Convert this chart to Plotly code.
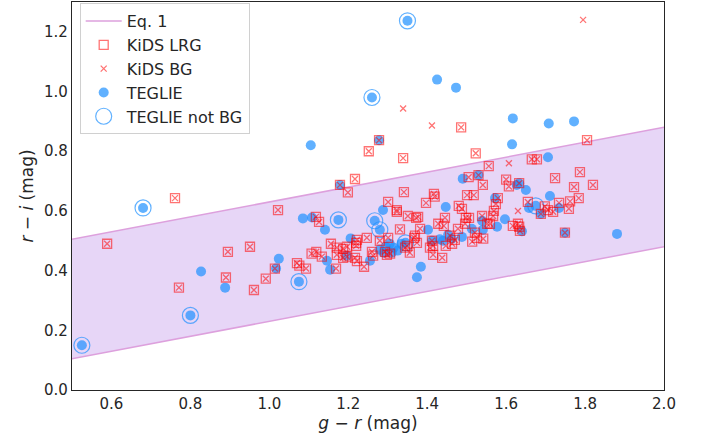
import plotly.graph_objects as go

# Eq. 1 band: r-i = slope*(g-r) + intercept
eq_x = [0.4, 2.1]
eq_slope = 0.25
eq_lower_intercept = -0.02
eq_upper_intercept = 0.38

lrg_gr = [0.589, 0.761, 0.771, 0.890, 0.895, 0.951, 0.961, 0.991, 1.014, 1.022,
          1.070, 1.076, 1.093, 1.107, 1.119, 1.118, 1.126, 1.133, 1.156, 1.169,
          1.171, 1.171, 1.179, 1.187, 1.187, 1.197, 1.197, 1.199, 1.217, 1.220,
          1.220, 1.222, 1.222, 1.217, 1.240, 1.247, 1.252, 1.260, 1.263, 1.278,
          1.280, 1.293, 1.298, 1.301, 1.301, 1.306, 1.323, 1.323, 1.331, 1.339,
          1.341, 1.344, 1.349, 1.351, 1.356, 1.367, 1.369, 1.372, 1.374, 1.377,
          1.382, 1.397, 1.407, 1.412, 1.415, 1.415, 1.417, 1.419, 1.428, 1.438,
          1.442, 1.445, 1.447, 1.458, 1.463, 1.470, 1.478, 1.480, 1.486, 1.488,
          1.496, 1.498, 1.501, 1.505, 1.506, 1.514, 1.518, 1.521, 1.523, 1.526,
          1.530, 1.539, 1.541, 1.542, 1.552, 1.556, 1.559, 1.567, 1.569, 1.574,
          1.579, 1.600, 1.607, 1.617, 1.630, 1.633, 1.633, 1.635, 1.655, 1.665,
          1.678, 1.688, 1.698, 1.706, 1.719, 1.724, 1.734, 1.749, 1.759, 1.762,
          1.772, 1.784, 1.787, 1.805, 1.820]
lrg_ri = [0.490, 0.643, 0.343, 0.377, 0.463, 0.480, 0.335, 0.373, 0.407, 0.603,
          0.425, 0.417, 0.407, 0.457, 0.463, 0.580, 0.563, 0.447, 0.490, 0.407,
          0.477, 0.453, 0.687, 0.473, 0.443, 0.480, 0.447, 0.662, 0.707, 0.483,
          0.493, 0.503, 0.432, 0.443, 0.413, 0.510, 0.800, 0.463, 0.450, 0.837,
          0.500, 0.463, 0.453, 0.510, 0.630, 0.457, 0.603, 0.597, 0.538, 0.777,
          0.663, 0.477, 0.483, 0.583, 0.460, 0.510, 0.517, 0.577, 0.493, 0.580,
          0.540, 0.627, 0.477, 0.500, 0.483, 0.453, 0.657, 0.648, 0.557, 0.443,
          0.550, 0.577, 0.483, 0.517, 0.490, 0.503, 0.540, 0.617, 0.880, 0.607,
          0.557, 0.577, 0.653, 0.713, 0.577, 0.497, 0.653, 0.527, 0.793, 0.510,
          0.720, 0.583, 0.687, 0.507, 0.557, 0.750, 0.557, 0.583, 0.600, 0.623,
          0.643, 0.705, 0.682, 0.550, 0.557, 0.693, 0.547, 0.533, 0.630, 0.773,
          0.773, 0.590, 0.615, 0.603, 0.597, 0.710, 0.627, 0.527, 0.607, 0.632,
          0.680, 0.643, 0.730, 0.837, 0.687]

# KiDS BG = all LRGs plus these extra galaxies
bg_extra_gr = [1.795, 1.339, 1.412, 1.607, 1.630]
bg_extra_ri = [1.240, 0.943, 0.886, 0.760, 0.600]

teglie_gr = [0.525, 0.680, 0.800, 0.827, 0.888, 1.017, 1.024, 1.075, 1.085, 1.105,
             1.108, 1.141, 1.146, 1.154, 1.175, 1.179, 1.196, 1.206, 1.255, 1.260,
             1.267, 1.278, 1.280, 1.288, 1.280, 1.295, 1.305, 1.315, 1.325, 1.290,
             1.310, 1.335, 1.345, 1.350, 1.374, 1.384, 1.402, 1.412, 1.425, 1.432,
             1.440, 1.447, 1.453, 1.462, 1.473, 1.488, 1.490, 1.513, 1.530, 1.539,
             1.541, 1.572, 1.577, 1.597, 1.615, 1.617, 1.627, 1.633, 1.640, 1.650,
             1.658, 1.675, 1.688, 1.706, 1.708, 1.711, 1.734, 1.749, 1.772, 1.881]
teglie_ri = [0.150, 0.610, 0.250, 0.397, 0.343, 0.407, 0.440, 0.363, 0.575, 0.820,
             0.578, 0.537, 0.433, 0.403, 0.570, 0.687, 0.450, 0.508, 0.433, 0.980,
             0.567, 0.837, 0.537, 0.603, 0.470, 0.480, 0.490, 0.477, 0.467, 0.460,
             0.460, 0.490, 0.493, 1.237, 0.378, 0.413, 0.537, 0.500, 1.040, 0.505,
             0.500, 0.613, 0.520, 0.507, 1.013, 0.513, 0.708, 0.540, 0.720, 0.567,
             0.537, 0.643, 0.547, 0.572, 0.823, 0.910, 0.687, 0.693, 0.532, 0.670,
             0.610, 0.617, 0.590, 0.780, 0.893, 0.650, 0.610, 0.527, 0.900, 0.523]

notbg_gr = [0.525, 0.680, 0.800, 1.075, 1.175, 1.260, 1.267, 1.280, 1.350, 1.345, 1.675]
notbg_ri = [0.150, 0.610, 0.250, 0.363, 0.570, 0.980, 0.567, 0.537, 1.237, 0.493, 0.617]

x_ticks = [0.6, 0.8, 1.0, 1.2, 1.4, 1.6, 1.8, 2.0]
y_ticks = [0.0, 0.2, 0.4, 0.6, 0.8, 1.0, 1.2]

bg_gr = lrg_gr + bg_extra_gr
bg_ri = lrg_ri + bg_extra_ri
eq_low = [eq_slope * x + eq_lower_intercept for x in eq_x]
eq_up = [eq_slope * x + eq_upper_intercept for x in eq_x]

line_col = "rgb(221,160,221)"
red = "rgba(255,0,0,0.55)"
blue = "rgba(30,144,255,0.7)"
font = "DejaVu Sans"
txt = "#262626"

fig = go.Figure()
fig.add_trace(go.Scatter(x=eq_x, y=eq_low, mode="lines", line=dict(color=line_col, width=1.5),
                         name="Eq. 1", legendrank=1, hoverinfo="skip"))
fig.add_trace(go.Scatter(x=eq_x, y=eq_up, mode="lines", line=dict(color=line_col, width=1.5),
                         fill="tonexty", fillcolor="rgba(160,90,225,0.25)",
                         showlegend=False))
fig.add_trace(go.Scatter(x=teglie_gr, y=teglie_ri, mode="markers", name="TEGLIE", legendrank=4,
                         marker=dict(symbol="circle", size=10, color=blue, line=dict(width=0))))
fig.add_trace(go.Scatter(x=notbg_gr, y=notbg_ri, mode="markers", name="TEGLIE not BG", legendrank=5,
                         marker=dict(symbol="circle-open", size=16, color=blue, line=dict(width=1.2, color=blue))))
fig.add_trace(go.Scatter(x=lrg_gr, y=lrg_ri, mode="markers", name="KiDS LRG", legendrank=2,
                         marker=dict(symbol="square-open", size=9, color=red, line=dict(width=1.3, color=red))))
fig.add_trace(go.Scatter(x=bg_gr, y=bg_ri, mode="markers", name="KiDS BG", legendrank=3,
                         marker=dict(symbol="x-thin-open", size=6, color=red, line=dict(width=1.3, color=red))))

fig.update_layout(
    width=708, height=441,
    margin=dict(l=72, r=44, t=2, b=51),
    paper_bgcolor="white", plot_bgcolor="white",
    font=dict(family=font, size=15, color=txt),
    legend=dict(x=0.013, y=0.997, xanchor="left", yanchor="top", traceorder="normal",
                bgcolor="rgba(255,255,255,0.9)", bordercolor="#d0d0d0", borderwidth=1,
                font=dict(size=16, family=font, color=txt), tracegroupgap=0, itemwidth=36),
    showlegend=True,
)
fig.update_xaxes(range=[0.5, 2.0], tickvals=x_ticks, ticktext=[f"{v:.1f}" for v in x_ticks],
                 showgrid=False, zeroline=False, showline=True, mirror=True, linecolor=txt, linewidth=1.3,
                 ticks="", tickfont=dict(size=15, family=font, color=txt),
                 title=dict(text="<i>g</i> − <i>r</i> (mag)", font=dict(size=17, family=font, color=txt), standoff=4))
fig.update_yaxes(range=[0.0, 1.3], tickvals=y_ticks, ticktext=[f"{v:.1f}" for v in y_ticks],
                 showgrid=False, zeroline=False, showline=True, mirror=True, linecolor=txt, linewidth=1.3,
                 ticks="", tickfont=dict(size=15, family=font, color=txt),
                 title=dict(text="<i>r</i> − <i>i</i> (mag)", font=dict(size=17, family=font, color=txt), standoff=6))

fig.write_html("out.html")
